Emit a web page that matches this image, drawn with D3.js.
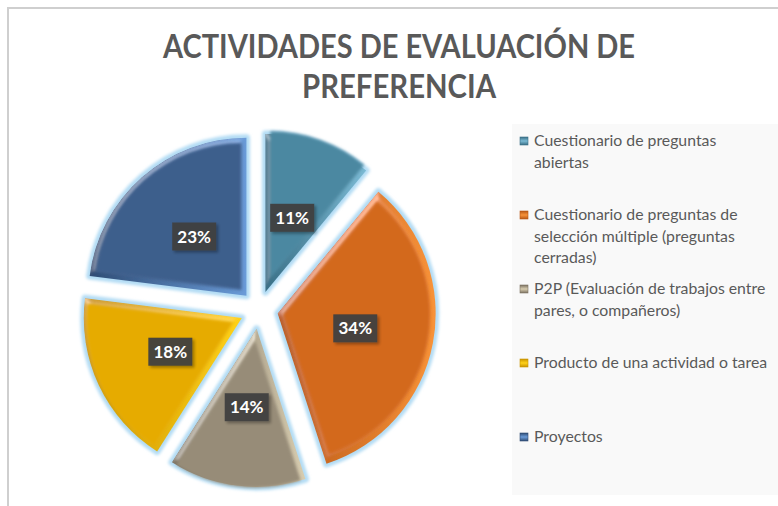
<!DOCTYPE html>
<html>
<head>
<meta charset="utf-8">
<script src="https://cdn.jsdelivr.net/npm/d3@7"></script>
<style>
  html, body { margin: 0; padding: 0; background: #fff; }
  svg { display: block; }
</style>
</head>
<body>
<div id="chart"></div>
<script>
// 데이터
const categories = [
  "Cuestionario de preguntas abiertas",
  "Cuestionario de preguntas de selección múltiple (preguntas cerradas)",
  "P2P (Evaluación de trabajos entre pares, o compañeros)",
  "Producto de una actividad o tarea",
  "Proyectos"
];
const legendLines = [
  ["Cuestionario de preguntas", "abiertas"],
  ["Cuestionario de preguntas de", "selección múltiple (preguntas", "cerradas)"],
  ["P2P (Evaluación de trabajos entre", "pares, o compañeros)"],
  ["Producto de una actividad o tarea"],
  ["Proyectos"]
];
const values = [11, 34, 14, 18, 23];
const titleLines = ["ACTIVIDADES DE EVALUACIÓN DE", "PREFERENCIA"];

const colorMid = ["#4c88a1", "#d3691f", "#978c78", "#e6ab00", "#3c5e8c"];
const colorDark = ["#3a6f86", "#b85816", "#7c7262", "#c99400", "#2f4c74"];
const colorLight = ["#7bbad4", "#f8933a", "#d8cdb0", "#ffd21a", "#6a9bd8"];

const W = 778, H = 506;
const cx = 259, cy = 310, R = 158, explode = 19;

const svg = d3.select("#chart").append("svg")
  .attr("width", W)
  .attr("height", H);

const defs = svg.append("defs");

// 베벨 효과
const bevel = defs.append("filter").attr("id", "bevel")
  .attr("x", "-10%").attr("y", "-10%").attr("width", "120%").attr("height", "120%");
bevel.append("feGaussianBlur").attr("in", "SourceAlpha").attr("stdDeviation", 3).attr("result", "blur");
const spec = bevel.append("feSpecularLighting")
  .attr("in", "blur").attr("surfaceScale", 3).attr("specularConstant", 0.3)
  .attr("specularExponent", 18).attr("lighting-color", "#ffffff").attr("result", "spec");
spec.append("feDistantLight").attr("azimuth", 225).attr("elevation", 40);
bevel.append("feComposite").attr("in", "spec").attr("in2", "SourceAlpha").attr("operator", "in").attr("result", "specIn");
bevel.append("feComposite").attr("in", "SourceGraphic").attr("in2", "specIn")
  .attr("operator", "arithmetic").attr("k1", 0).attr("k2", 1).attr("k3", 1).attr("k4", 0);

// 글로우
const glow = defs.append("filter").attr("id", "glow")
  .attr("x", "-10%").attr("y", "-10%").attr("width", "120%").attr("height", "120%");
glow.append("feGaussianBlur").attr("stdDeviation", 1.4);

const soft = defs.append("filter").attr("id", "soft")
  .attr("x", "-10%").attr("y", "-10%").attr("width", "120%").attr("height", "120%");
soft.append("feGaussianBlur").attr("stdDeviation", 1.8);

const shadow = defs.append("filter").attr("id", "shadow")
  .attr("x", "-20%").attr("y", "-20%").attr("width", "150%").attr("height", "160%");
shadow.append("feDropShadow").attr("dx", 2).attr("dy", 2).attr("stdDeviation", 1.5)
  .attr("flood-color", "#000").attr("flood-opacity", 0.35);

categories.forEach((c, i) => {
  const g = defs.append("linearGradient").attr("id", "grad" + i)
    .attr("x1", "0%").attr("y1", "0%").attr("x2", "100%").attr("y2", "0%");
  g.append("stop").attr("offset", "0%").attr("stop-color", colorDark[i]);
  g.append("stop").attr("offset", "100%").attr("stop-color", colorLight[i]);
  const m = defs.append("linearGradient").attr("id", "mgrad" + i)
    .attr("x1", "0%").attr("y1", "0%").attr("x2", "0%").attr("y2", "100%");
  m.append("stop").attr("offset", "0%").attr("stop-color", colorDark[i]);
  m.append("stop").attr("offset", "50%").attr("stop-color", colorLight[i]);
  m.append("stop").attr("offset", "100%").attr("stop-color", colorDark[i]);
});

// 프레임
svg.append("path")
  .attr("d", `M8,${H} L8,8 L${W},8`)
  .attr("fill", "none")
  .attr("stroke", "#cfcfcf")
  .attr("stroke-width", 2);

// 제목
svg.append("g").selectAll("text")
  .data(titleLines)
  .join("text")
  .attr("x", 399)
  .attr("y", (d, i) => 58 + i * 40)
  .attr("text-anchor", "middle")
  .attr("font-family", "Lato, 'Open Sans', sans-serif")
  .attr("font-weight", "bold")
  .attr("font-size", 32)
  .attr("fill", "#595959")
  .attr("textLength", (d, i) => i === 0 ? 472 : 194)
  .attr("lengthAdjust", "spacingAndGlyphs")
  .text(d => d);

// 파이
const pie = d3.pie().sort(null).value(d => d);
const arc = d3.arc().innerRadius(0).outerRadius(R);
const innerArc = d3.arc().innerRadius(0).outerRadius(R - 11);
const pieData = pie(values);

const pieG = svg.append("g").attr("transform", `translate(${cx},${cy})`);

const slices = pieG.selectAll("g.slice")
  .data(pieData)
  .join("g")
  .attr("class", "slice")
  .attr("transform", d => {
    const a = (d.startAngle + d.endAngle) / 2;
    return `translate(${Math.sin(a) * explode},${-Math.cos(a) * explode})`;
  });

slices.append("path")
  .attr("d", arc)
  .attr("fill", "#c4e6f8")
  .attr("stroke", "#b3dcf4")
  .attr("stroke-width", 7)
  .attr("stroke-linejoin", "round")
  .attr("filter", "url(#glow)");

slices.append("path")
  .attr("d", arc)
  .attr("fill", (d, i) => `url(#grad${i})`)
  .attr("filter", "url(#bevel)");

// 안쪽 면
slices.append("path")
  .attr("d", innerArc)
  .attr("transform", d => {
    const a = (d.startAngle + d.endAngle) / 2;
    const k = 5 / Math.max(Math.sin((d.endAngle - d.startAngle) / 2), 0.3);
    return `translate(${Math.sin(a) * k},${-Math.cos(a) * k})`;
  })
  .attr("fill", (d, i) => colorMid[i])
  .attr("filter", "url(#soft)");

// 라벨
const labelG = slices.append("g")
  .attr("transform", d => `translate(${arc.centroid(d)})`);

labelG.append("rect")
  .attr("x", -22)
  .attr("y", -14)
  .attr("width", 44)
  .attr("height", 28)
  .attr("fill", "#404040")
  .attr("opacity", 0.95)
  .attr("filter", "url(#shadow)");

labelG.append("text")
  .attr("text-anchor", "middle")
  .attr("dy", "0.36em")
  .attr("font-family", "Lato, 'Open Sans', sans-serif")
  .attr("font-weight", "bold")
  .attr("font-size", 17)
  .attr("fill", "#ffffff")
  .text(d => `${d.data}%`);

// 범례
svg.append("rect")
  .attr("x", 512)
  .attr("y", 124)
  .attr("width", 266)
  .attr("height", 371)
  .attr("fill", "#f9f9f9");

const legendY = d3.scalePoint()
  .domain(categories)
  .range([141, 437]);

const legend = svg.append("g").selectAll("g")
  .data(categories)
  .join("g")
  .attr("transform", d => `translate(520,${legendY(d)})`);

legend.append("rect")
  .attr("x", 0)
  .attr("y", -4)
  .attr("width", 8)
  .attr("height", 8)
  .attr("fill", (d, i) => `url(#mgrad${i})`)
  .attr("stroke", (d, i) => colorDark[i])
  .attr("stroke-width", 0.6);

legend.append("text")
  .attr("font-family", "Lato, 'Open Sans', sans-serif")
  .attr("font-size", 15.8)
  .attr("fill", "#595959")
  .selectAll("tspan")
  .data((d, i) => legendLines[i])
  .join("tspan")
  .attr("x", 14)
  .attr("y", (d, j) => 5 + j * 21.5)
  .text(d => d);
</script>
</body>
</html>
